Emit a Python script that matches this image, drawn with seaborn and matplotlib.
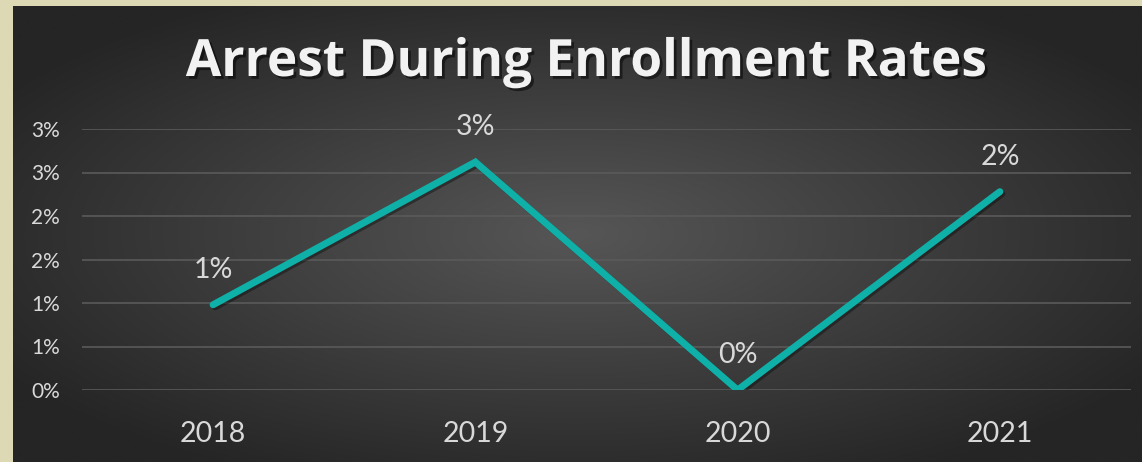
import numpy as np
import pandas as pd
import matplotlib
matplotlib.use("Agg")
import matplotlib.pyplot as plt
import matplotlib.patheffects as pe
from matplotlib.ticker import FuncFormatter
import seaborn as sns

years = ["2018", "2019", "2020", "2021"]
rates = [0.0098, 0.0262, 0.0000, 0.0228]
y_ticks = [0.0, 0.005, 0.010, 0.015, 0.020, 0.025, 0.030]
title = "Arrest During Enrollment Rates"

df = pd.DataFrame({"year": years, "rate": rates})

sns.set_theme(style="dark")
plt.rcParams["font.family"] = ["Lato", "DejaVu Sans"]

W, H = 1142, 462
fig = plt.figure(figsize=(W / 100, H / 100), dpi=100, facecolor="#DDD9B5")

# dark gradient panel
bg = fig.add_axes([13 / W, 0, 1 - 13 / W, 1 - 6 / H], zorder=0)
gx = np.linspace(-1, 1, 600)
gy = np.linspace(-1, 1, 300)
XX, YY = np.meshgrid(gx, gy)
r = np.sqrt(XX ** 2 + YY ** 2) / np.sqrt(2)
c_in = np.array([0x56, 0x56, 0x56]) / 255
c_out = np.array([0x25, 0x25, 0x25]) / 255
t = np.clip(r / 0.85, 0, 1)[..., None]
img = c_in * (1 - t) + c_out * t
bg.imshow(img, aspect="auto", extent=[0, 1, 0, 1], interpolation="bilinear")
bg.set_axis_off()

ax = fig.add_axes([82 / W, 1 - 390 / H, (1131 - 82) / W, (390 - 129) / H], zorder=1)
ax.set_facecolor("none")

sns.lineplot(data=df, x="year", y="rate", ax=ax, color="#0FB0A8", linewidth=5.0,
             sort=False, solid_capstyle="round", solid_joinstyle="miter",
             path_effects=[pe.SimpleLineShadow(offset=(1.5, -1.5), shadow_color="black", alpha=0.35),
                           pe.Normal()])

ax.set_xlim(-0.5, len(years) - 0.5)
ax.set_ylim(0, 0.03)
ax.set_yticks(y_ticks)
ax.yaxis.set_major_formatter(FuncFormatter(lambda v, p: f"{int(np.floor(v * 100 + 0.5 + 1e-9))}%"))
ax.grid(axis="y", color="#5a5a5a", linewidth=1.2)
ax.grid(axis="x", visible=False)
for s in ax.spines.values():
    s.set_visible(False)
ax.set_xlabel("")
ax.set_ylabel("")
ax.tick_params(axis="y", colors="#D9D9D9", labelsize=15, pad=16, length=0)
ax.tick_params(axis="x", colors="#D9D9D9", labelsize=20.5, pad=22, length=0)

for i, v in enumerate(rates):
    ax.annotate(f"{int(np.floor(v * 100 + 0.5))}%", (i, v), xytext=(0, 25), textcoords="offset points",
                ha="center", va="center", fontsize=20.5, color="#D9D9D9")

fig.text(586 / W, 1 - 63 / H, title, ha="center", va="center", fontsize=37,
         fontweight="bold", color="#F2F2F2", family=["Open Sans", "DejaVu Sans"],
         path_effects=[pe.withSimplePatchShadow(offset=(2, -2), shadow_rgbFace="black", alpha=0.5)])

fig.savefig("out.png", dpi=100, facecolor=fig.get_facecolor())
